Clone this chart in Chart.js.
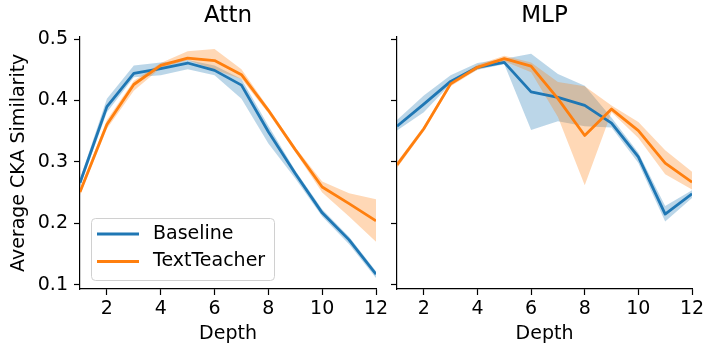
<!DOCTYPE html>
<html>
<head>
<meta charset="utf-8">
<script src="https://cdn.jsdelivr.net/npm/chart.js@4.4.1/dist/chart.umd.min.js"></script>
<style>
  body { margin: 0; background: #fff; }
  #wrap { position: relative; width: 703px; height: 349px; overflow: hidden; }
  canvas { position: absolute; top: 0; }
</style>
</head>
<body>
<div id="wrap">
  <canvas id="attn" width="395" height="349" style="left:0"></canvas>
  <canvas id="mlp" width="318" height="349" style="left:385px"></canvas>
</div>
<script>
// data
const depth = [1, 2, 3, 4, 5, 6, 7, 8, 9, 10, 11, 12];
const xTicks = [2, 4, 6, 8, 10, 12];
const yTicks = [0.1, 0.2, 0.3, 0.4, 0.5];
const seriesNames = ['Baseline', 'TextTeacher'];

const attnBaseline   = [0.266, 0.390, 0.444, 0.452, 0.461, 0.449, 0.425, 0.349, 0.281, 0.217, 0.173, 0.117];
const attnBaselineLo = [0.260, 0.381, 0.438, 0.441, 0.451, 0.441, 0.403, 0.330, 0.273, 0.211, 0.166, 0.111];
const attnBaselineHi = [0.272, 0.403, 0.457, 0.462, 0.466, 0.457, 0.435, 0.359, 0.286, 0.223, 0.178, 0.122];
const attnTeacher    = [0.251, 0.361, 0.426, 0.457, 0.469, 0.465, 0.442, 0.384, 0.320, 0.259, 0.232, 0.204];
const attnTeacherLo  = [0.246, 0.354, 0.416, 0.453, 0.466, 0.450, 0.435, 0.379, 0.316, 0.250, 0.211, 0.170];
const attnTeacherHi  = [0.256, 0.368, 0.432, 0.461, 0.480, 0.484, 0.451, 0.388, 0.324, 0.268, 0.249, 0.239];

const mlpBaseline   = [0.358, 0.394, 0.431, 0.454, 0.462, 0.414, 0.405, 0.392, 0.363, 0.308, 0.215, 0.248];
const mlpBaselineLo = [0.351, 0.381, 0.427, 0.450, 0.459, 0.352, 0.366, 0.358, 0.356, 0.298, 0.203, 0.241];
const mlpBaselineHi = [0.368, 0.408, 0.441, 0.461, 0.468, 0.476, 0.443, 0.424, 0.372, 0.315, 0.228, 0.254];
const mlpTeacher    = [0.295, 0.354, 0.427, 0.454, 0.468, 0.456, 0.403, 0.343, 0.386, 0.351, 0.298, 0.267];
const mlpTeacherLo  = [0.290, 0.350, 0.423, 0.450, 0.464, 0.446, 0.373, 0.262, 0.381, 0.339, 0.280, 0.255];
const mlpTeacherHi  = [0.300, 0.358, 0.431, 0.458, 0.473, 0.462, 0.430, 0.423, 0.392, 0.365, 0.319, 0.284];

const yMin = 0.093, yMax = 0.504;
const colors = ['#1f77b4', '#ff7f0e'];
const bandColors = ['rgba(31,119,180,0.3)', 'rgba(255,127,14,0.3)'];
const FONT = 'DejaVu Sans';

const pts = arr => depth.map((d, i) => ({ x: d, y: arr[i] }));

function buildDatasets(base, baseLo, baseHi, teach, teachLo, teachHi) {
  const band = (arr, i, fill, order) => ({
    data: pts(arr), borderWidth: 0, pointRadius: 0, fill: fill,
    backgroundColor: bandColors[i], order: order
  });
  const line = (arr, i, order) => ({
    label: seriesNames[i], data: pts(arr), borderColor: colors[i], borderWidth: 2.8,
    pointRadius: 0, fill: false, borderJoinStyle: 'round', order: order
  });
  return [
    band(baseLo, 0, false, 3),
    band(baseHi, 0, '-1', 3),
    band(teachLo, 1, false, 2),
    band(teachHi, 1, '-1', 2),
    line(base, 0, 1),
    line(teach, 1, 0)
  ];
}

// legend drawn inside the plot like matplotlib's
const legendBox = {
  id: 'legendBox',
  afterDraw(chart) {
    const { ctx, chartArea: a } = chart;
    const x = a.left + 11, y = a.bottom - 71, w = 183, h = 62;
    ctx.save();
    ctx.beginPath();
    ctx.roundRect(x + 0.5, y + 0.5, w, h, 4);
    ctx.fillStyle = 'rgba(255,255,255,0.8)';
    ctx.fill();
    ctx.strokeStyle = '#d0d0d0';
    ctx.lineWidth = 1;
    ctx.stroke();
    ctx.font = '19px "' + FONT + '"';
    ctx.textBaseline = 'middle';
    ctx.fillStyle = '#000';
    seriesNames.forEach((name, i) => {
      const ly = y + 16 + i * 27.5;
      ctx.beginPath();
      ctx.moveTo(x + 6, ly);
      ctx.lineTo(x + 48, ly);
      ctx.strokeStyle = colors[i];
      ctx.lineWidth = 2.8;
      ctx.stroke();
      ctx.fillText(name, x + 62, ly);
    });
    ctx.restore();
  }
};

function makeChart(id, title, datasets, showY, yWidth, padRight, withLegend) {
  return new Chart(document.getElementById(id), {
    type: 'line',
    data: { datasets: datasets },
    plugins: withLegend ? [legendBox] : [],
    options: {
      responsive: false,
      animation: false,
      devicePixelRatio: 1,
      layout: { padding: { left: 0, right: padRight, top: 0, bottom: 0 } },
      plugins: {
        legend: { display: false },
        tooltip: { enabled: false },
        title: {
          display: true, text: title, color: '#000', fullSize: false,
          font: { family: FONT, size: 23, weight: 'normal' },
          padding: { top: 2, bottom: 7 }
        }
      },
      scales: {
        x: {
          type: 'linear', min: 1, max: 12,
          afterBuildTicks: s => { s.ticks = xTicks.map(v => ({ value: v })); },
          afterFit: s => { s.height = 60; s.paddingLeft = 0; s.paddingRight = 0; },
          ticks: { color: '#000', font: { family: FONT, size: 19 }, padding: 3, maxRotation: 0 },
          grid: { drawOnChartArea: false, drawTicks: true, tickLength: 6, tickColor: '#000', tickWidth: 1.2 },
          border: { color: '#000', width: 1.2 },
          title: { display: true, text: 'Depth', color: '#000', font: { family: FONT, size: 19 }, padding: { top: 0, bottom: 4 } }
        },
        y: {
          min: yMin, max: yMax,
          afterBuildTicks: s => { s.ticks = yTicks.map(v => ({ value: v })); },
          afterFit: s => { s.width = yWidth; },
          ticks: {
            color: '#000', font: { family: FONT, size: 19 }, padding: 6,
            callback: v => showY ? v.toFixed(1) : ''
          },
          grid: { drawOnChartArea: false, drawTicks: true, tickLength: 6, tickColor: '#000', tickWidth: 1.2 },
          border: { color: '#000', width: 1.2 },
          title: {
            display: showY, text: 'Average CKA Similarity', color: '#000',
            font: { family: FONT, size: 19 }, padding: { top: 8, bottom: 0 }
          }
        }
      }
    }
  });
}

makeChart('attn', 'Attn',
  buildDatasets(attnBaseline, attnBaselineLo, attnBaselineHi, attnTeacher, attnTeacherLo, attnTeacherHi),
  true, 80, 19, true);
makeChart('mlp', 'MLP',
  buildDatasets(mlpBaseline, mlpBaselineLo, mlpBaselineHi, mlpTeacher, mlpTeacherLo, mlpTeacherHi),
  false, 12, 11, false);
</script>
</body>
</html>
